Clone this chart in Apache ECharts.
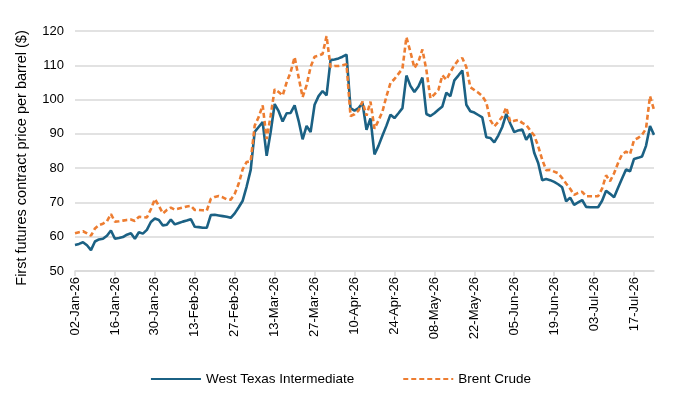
<!DOCTYPE html>
<html>
<head>
<meta charset="utf-8">
<script src="https://cdn.jsdelivr.net/npm/echarts@6/dist/echarts.min.js"></script>
<style>
html,body{margin:0;padding:0;background:#fff;}
#chart{width:681px;height:415px;}
</style>
</head>
<body>
<div id="chart"></div>
<script>
// Business days from 02-Jan-26 to 24-Jul-26
const startDate = [2026, 0, 2];
const endDate = [2026, 6, 24];
const monthNames = ['Jan','Feb','Mar','Apr','May','Jun','Jul','Aug','Sep','Oct','Nov','Dec'];

const wti = [
57.6,57.9,58.4,57.5,56.1,58.6,59.2,59.4,60.3,61.8,
59.4,59.6,59.9,60.6,61.0,59.4,61.3,60.9,62.0,64.3,
65.3,64.9,63.3,63.5,65.0,63.6,64.0,64.4,64.7,65.1,
62.9,62.8,62.6,62.6,66.3,66.4,66.2,66.0,65.8,65.5,
66.8,68.6,70.5,74.7,79.5,90.6,92.0,93.4,83.6,90.5,
98.7,96.6,93.6,96.0,96.1,98.3,93.8,88.4,92.3,90.5,
98.5,101.0,102.5,101.2,111.5,111.7,112.0,112.5,113.1,97.5,
96.8,97.5,99.0,91.2,94.5,84.0,86.5,89.5,92.4,95.6,
94.6,96.0,97.5,107.0,104.0,102.2,103.8,106.4,95.8,95.2,
96.0,97.0,98.0,102.0,101.0,105.6,107.0,108.5,98.5,96.6,
96.2,95.5,94.8,89.0,88.8,87.5,89.5,92.0,95.8,93.0,
90.5,91.0,91.3,88.3,90.0,84.5,81.5,76.5,76.8,76.5,
76.0,75.3,74.4,70.3,71.4,69.3,70.0,70.7,68.7,68.6,
68.6,68.6,70.5,73.4,72.5,71.5,74.3,77.0,79.6,79.1,
82.7,83.0,83.4,86.5,92.3,89.7
];

const brent = [
61.0,61.3,61.6,61.0,60.3,62.4,63.4,63.8,64.5,66.6,
64.4,64.5,64.7,64.9,65.0,64.6,65.8,65.7,65.6,68.0,
71.0,69.0,66.8,67.8,68.5,67.9,68.2,68.5,68.8,69.0,
67.8,67.8,67.7,67.6,71.0,71.6,71.9,71.5,70.9,70.8,
72.5,75.5,79.7,81.8,82.0,92.4,94.9,98.3,88.5,95.3,
103.0,102.2,101.2,105.0,108.0,112.4,106.5,100.7,104.2,109.5,
112.5,112.8,113.3,118.5,109.5,109.8,109.8,110.0,110.3,95.2,
95.7,96.8,99.4,95.3,99.4,91.5,93.9,96.5,101.0,104.8,
106.0,107.5,109.0,118.2,113.9,109.2,111.0,114.6,108.6,100.4,
101.5,102.8,107.1,105.8,108.0,110.0,111.5,112.1,109.5,103.6,
102.8,102.0,101.0,99.2,94.0,92.2,93.5,95.0,97.7,93.5,
93.8,94.1,93.2,92.6,91.0,89.5,86.4,82.5,79.4,79.5,
79.0,78.5,77.1,75.5,74.0,72.2,72.8,73.1,71.8,71.8,
71.8,71.8,74.0,77.9,76.2,78.5,81.5,84.0,84.8,84.1,
88.2,88.8,89.7,91.5,101.0,97.0
];

const yTicks = { min: 50, max: 120, interval: 10 };

function buildDates() {
  const out = [];
  const d = new Date(Date.UTC(startDate[0], startDate[1], startDate[2]));
  const end = new Date(Date.UTC(endDate[0], endDate[1], endDate[2]));
  while (d <= end) {
    const wd = d.getUTCDay();
    if (wd !== 0 && wd !== 6) {
      const dd = String(d.getUTCDate()).padStart(2, '0');
      out.push(dd + '-' + monthNames[d.getUTCMonth()] + '-' + String(d.getUTCFullYear()).slice(2));
    }
    d.setUTCDate(d.getUTCDate() + 1);
  }
  return out;
}
const categories = buildDates();

const chart = echarts.init(document.getElementById('chart'), null, { renderer: 'canvas' });
const font = 'Liberation Sans, Arial, sans-serif';
chart.setOption({
  animation: false,
  backgroundColor: '#ffffff',
  textStyle: { fontFamily: font },
  grid: { left: 75, right: 27, top: 31, bottom: 144, containLabel: false },
  legend: {
    bottom: 24,
    left: 'center',
    itemGap: 48,
    itemWidth: 50,
    itemHeight: 12,
    itemStyle: { opacity: 0 },
    textStyle: { fontFamily: font, fontSize: 13.5, color: '#000' },
    data: ['West Texas Intermediate', 'Brent Crude']
  },
  xAxis: {
    type: 'category',
    data: categories,
    boundaryGap: false,
    axisLine: { lineStyle: { color: '#d9d9d9', width: 1.5 } },
    axisTick: { show: true, interval: 9, length: 5, lineStyle: { color: '#d9d9d9', width: 1.5 } },
    axisLabel: { interval: 9, rotate: 90, fontSize: 13, color: '#000', fontFamily: font, margin: 6 },
    splitLine: { show: false }
  },
  yAxis: {
    type: 'value',
    min: yTicks.min, max: yTicks.max, interval: yTicks.interval,
    name: 'First futures contract price per barrel ($)',
    nameLocation: 'middle',
    nameGap: 46,
    nameRotate: 90,
    nameTextStyle: { fontFamily: font, fontSize: 14.5, color: '#000', padding: [0, 14, 0, 0] },
    axisLine: { show: false },
    axisTick: { show: false },
    axisLabel: { fontSize: 13, color: '#000', fontFamily: font, margin: 11 },
    splitLine: { lineStyle: { color: '#d9d9d9', width: 1.5 } }
  },
  series: [
    {
      name: 'West Texas Intermediate',
      type: 'line',
      data: wti,
      symbol: 'none',
      smooth: false,
      lineStyle: { color: '#1b6184', width: 2.6 },
      itemStyle: { color: '#1b6184' }
    },
    {
      name: 'Brent Crude',
      type: 'line',
      data: brent,
      symbol: 'none',
      smooth: false,
      lineStyle: { color: '#ed7d31', width: 2.6, type: [5, 3] },
      itemStyle: { color: '#ed7d31' }
    }
  ]
});
</script>
</body>
</html>
